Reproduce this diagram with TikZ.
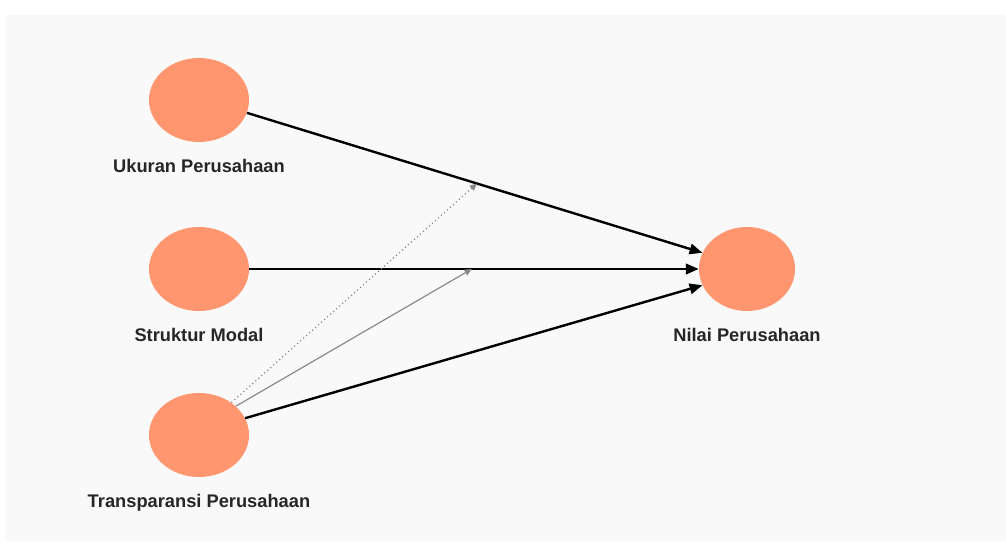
\documentclass[tikz,border=0pt]{standalone}
\usepackage{fontspec}
\setmainfont{Liberation Sans}
\usetikzlibrary{arrows.meta,positioning,shapes.geometric}
\definecolor{varsalmon}{HTML}{FF9670}
\definecolor{panelgrey}{HTML}{F9F9F9}
\definecolor{linkgrey}{HTML}{8A8A8A}

\tikzset{
  latent/.style={ellipse,fill=varsalmon,minimum width=2.5cm,minimum height=2.1cm,inner sep=0pt},
  varlabel/.style={font=\fontsize{13}{15}\selectfont\bfseries,text=black!85},
  path/.style={draw=black,line width=.6mm,-{Triangle[length=3.2mm,width=2.6mm]}},
  moderate/.style={draw=linkgrey,line width=.3mm,-{Triangle[length=1.8mm,width=1.6mm]}},
}

\begin{document}
\begin{tikzpicture}[x=.025cm,y=-.025cm]
        \useasboundingbox (0,0) rectangle (1006,543);
        \fill[panelgrey] (5,15) rectangle (1006,541);
        \node[latent] (ukuran) at (199,100) {};
        \node[latent] (struktur) at (199,269) {};
        \node[latent] (transparansi) at (199,435) {};
        \node[latent,minimum width=2.4cm] (nilai) at (747,269) {};
        \node[varlabel,below=.3cm of ukuran] (ukuranlbl) {Ukuran Perusahaan};
        \node[varlabel,below=.3cm of struktur] (strukturlbl) {Struktur Modal};
        \node[varlabel,below=.3cm of transparansi] (transparansilbl) {Transparansi Perusahaan};
        \node[varlabel,below=.3cm of nilai] (nilailbl) {Nilai Perusahaan};
        % structural paths
        \draw[path] (ukuran.-15) -- coordinate[pos=.505] (onukuran) (nilai.160);
        \draw[path] (struktur) -- coordinate[pos=.495] (onstruktur) (nilai);
        \draw[path] (transparansi.20) -- (nilai.200);
        % moderating links
        \draw[moderate,dotted] (transparansi.45) -- (onukuran);
        \draw[moderate] (transparansi.38) -- (onstruktur);
      \end{tikzpicture}
\end{document}
